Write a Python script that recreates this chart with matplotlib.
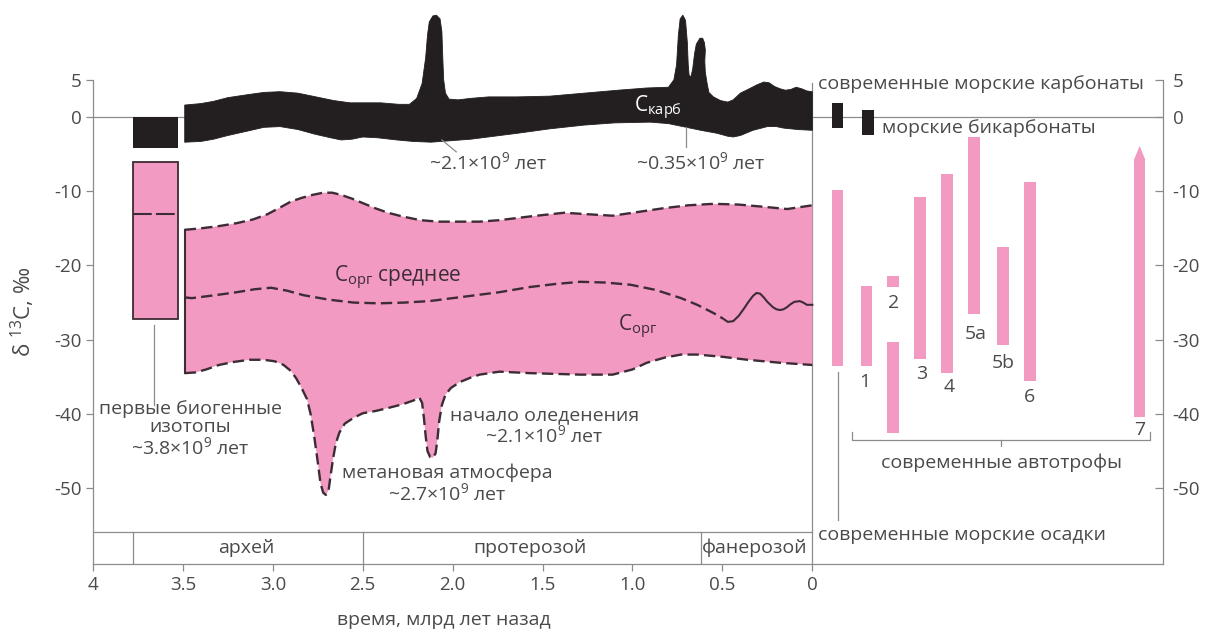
import numpy as np
import matplotlib.pyplot as plt

plt.rcParams['font.family'] = ['Open Sans', 'DejaVu Sans']
plt.rcParams['mathtext.fontset'] = 'custom'
plt.rcParams['mathtext.rm'] = 'Open Sans'
plt.rcParams['mathtext.it'] = 'Open Sans:italic'
plt.rcParams['mathtext.bf'] = 'Open Sans:bold'
plt.rcParams['axes.unicode_minus'] = False

PINK = '#f29ac2'
BLACK = '#231f20'
DASH = '#3d2c35'
GREY = '#8c8c8c'
TXT = '#4a4a4a'
FS = 14

# ---------------------------------------------------------------
# data (time in Ga before present; modern samples placed at x < 0)

# C_carb band, upper and lower edges
carb_up_x = [3.49, 3.40, 3.33, 3.25, 3.14, 3.05, 2.96, 2.86, 2.76, 2.66, 2.57, 2.48,
             2.40, 2.30, 2.24, 2.20, 2.17, 2.15, 2.14, 2.13, 2.11, 2.09, 2.07, 2.06,
             2.055, 2.05, 2.04, 2.02, 1.97, 1.90, 1.80, 1.64, 1.46, 1.27, 1.08, 0.92,
             0.80, 0.77, 0.755, 0.745, 0.735, 0.72, 0.705, 0.695, 0.69, 0.685, 0.675,
             0.665, 0.655, 0.645, 0.625, 0.61, 0.60, 0.595, 0.598, 0.595, 0.585, 0.575,
             0.55, 0.51, 0.47, 0.44, 0.40, 0.35, 0.31, 0.27, 0.24, 0.21, 0.18, 0.15,
             0.12, 0.09, 0.06, 0.03, 0.0]
carb_up_y = [1.6, 1.8, 2.1, 2.6, 3.0, 3.3, 3.4, 3.2, 2.7, 2.2, 1.9, 1.9,
             1.9, 1.7, 1.7, 2.5, 4.5, 8.0, 11.0, 12.8, 13.6, 13.7, 13.2, 11.5,
             8.0, 5.0, 3.2, 2.4, 2.3, 2.5, 2.7, 2.7, 2.8, 3.2, 3.6, 3.9,
             4.0, 5.0, 7.0, 11.0, 13.2, 13.7, 13.0, 10.0, 7.0, 5.6, 5.4,
             6.5, 8.5, 9.8, 10.6, 10.6, 10.0, 9.0, 7.5, 6.0, 4.5, 3.3,
             2.7, 2.2, 2.0, 2.3, 3.2, 3.8, 4.3, 4.7, 4.6, 4.1, 3.8, 3.6,
             3.7, 4.0, 3.8, 3.5, 3.4]
carb_lo_x = [3.49, 3.40, 3.33, 3.25, 3.14, 3.05, 2.96, 2.86, 2.77, 2.68, 2.62, 2.56,
             2.50, 2.42, 2.31, 2.22, 2.12, 2.01, 1.90, 1.77, 1.64, 1.46, 1.27, 1.10,
             0.90, 0.80, 0.72, 0.62, 0.53, 0.47, 0.44, 0.40, 0.33, 0.25, 0.20, 0.16,
             0.08, 0.0]
carb_lo_y = [-3.4, -3.3, -3.0, -2.5, -1.9, -1.4, -1.3, -1.7, -2.3, -2.8, -3.1, -3.0,
             -2.7, -2.8, -3.1, -3.3, -3.4, -3.2, -3.0, -2.6, -2.2, -1.6, -1.1, -0.8,
             -0.7, -0.9, -1.3, -1.8, -2.2, -2.6, -2.7, -2.5, -1.8, -1.3, -1.3, -1.5,
             -1.7, -1.8]

# C_org band, upper and lower edges
org_up_x = [3.49, 3.40, 3.30, 3.20, 3.11, 3.03, 2.96, 2.90, 2.84, 2.78, 2.72, 2.67,
            2.62, 2.56, 2.50, 2.43, 2.36, 2.28, 2.18, 2.08, 2.00, 1.85, 1.74, 1.57,
            1.38, 1.25, 1.11, 0.97, 0.83, 0.69, 0.55, 0.41, 0.27, 0.14, 0.0]
org_up_y = [-15.2, -15.0, -14.7, -14.3, -13.8, -13.1, -12.2, -11.4, -10.9, -10.5,
            -10.2, -10.2, -10.5, -11.0, -11.6, -12.3, -12.9, -13.4, -13.9, -14.1,
            -14.1, -14.1, -13.9, -13.4, -12.9, -13.1, -13.3, -12.8, -12.3, -11.9,
            -11.7, -11.8, -12.1, -12.4, -11.9]
org_lo_x = [3.49, 3.43, 3.37, 3.30, 3.22, 3.13, 3.05, 2.99, 2.94, 2.90, 2.87, 2.84,
            2.81, 2.79, 2.77, 2.75, 2.735, 2.72, 2.705, 2.69, 2.68, 2.665, 2.65, 2.63,
            2.60, 2.55, 2.50, 2.43, 2.36, 2.28, 2.22, 2.185, 2.17, 2.16, 2.15, 2.14,
            2.125, 2.11, 2.095, 2.085, 2.075, 2.06, 2.04, 2.01, 1.96, 1.90, 1.85,
            1.74, 1.57, 1.29, 1.11, 1.00, 0.92, 0.82, 0.73, 0.64, 0.50, 0.36, 0.18, 0.0]
org_lo_y = [-34.5, -34.4, -34.0, -33.4, -33.0, -32.7, -32.7, -32.9, -33.4, -34.2,
            -35.2, -36.5, -38.0, -40.0, -43.0, -46.5, -49.3, -50.6, -50.9, -50.3,
            -48.5, -46.0, -44.0, -42.5, -41.3, -40.5, -39.9, -39.6, -39.2, -38.7,
            -38.2, -37.8, -38.5, -40.5, -43.0, -45.0, -45.8, -45.9, -45.3, -43.5,
            -41.0, -38.8, -37.4, -36.5, -35.7, -35.1, -34.7, -34.3, -34.5, -34.7,
            -34.7, -34.0, -33.1, -32.4, -32.0, -32.0, -32.3, -32.7, -33.1, -33.4]
org_mean_x = [3.49, 3.45, 3.32, 3.20, 3.10, 3.01, 2.92, 2.83, 2.69, 2.55, 2.41, 2.27,
              2.13, 2.00, 1.87, 1.74, 1.57, 1.43, 1.29, 1.15, 1.01, 0.87, 0.73, 0.64,
              0.55, 0.50]
org_mean_y = [-24.3, -24.4, -24.0, -23.6, -23.2, -23.0, -23.4, -24.0, -24.6, -25.0,
              -25.1, -25.0, -24.8, -24.4, -24.0, -23.6, -22.9, -22.5, -22.2, -22.3,
              -22.6, -23.3, -24.4, -25.3, -26.4, -27.1]
org_wig_x = [0.50, 0.47, 0.44, 0.41, 0.38, 0.355, 0.33, 0.31, 0.29, 0.27, 0.25, 0.22,
             0.20, 0.18, 0.16, 0.14, 0.12, 0.10, 0.07, 0.05, 0.03, 0.0]
org_wig_y = [-27.1, -27.6, -27.5, -26.8, -25.8, -24.9, -24.1, -23.7, -23.8, -24.3,
             -24.9, -25.6, -25.9, -26.0, -25.9, -25.6, -25.2, -24.9, -24.8, -25.0,
             -25.3, -25.3]

# first biogenic isotopes (3.8 Ga box)
box_x = 3.655
box_w = 0.25
box_carb = (0.0, -4.2)
box_org = (-6.1, -27.2)
box_org_mean = -13.1

# eons
eon_edges = [3.78, 2.5, 0.62, 0.0]
eon_names = ['архей', 'протерозой', 'фанерозой']
eon_centers = [3.15, 1.57, 0.32]

# modern samples
sed_x, sed_top, sed_bot = -0.14, -9.8, -33.6
carb_mod_x = [-0.14, -0.31]
carb_mod_top = [1.9, 0.9]
carb_mod_bot = [-1.5, -2.4]
auto_x = [-0.30, -0.45, -0.45, -0.60, -0.75, -0.90, -1.06, -1.21, -1.82]
auto_top = [-22.8, -21.4, -30.3, -10.8, -7.7, -2.7, -17.5, -8.8, -5.8]
auto_bot = [-33.6, -22.9, -42.6, -32.6, -34.5, -26.6, -30.7, -35.6, -40.4]
auto_tip = -3.9
auto_labels = ['1', '2', '3', '4', '5a', '5b', '6', '7']
auto_label_x = [-0.29, -0.45, -0.61, -0.76, -0.91, -1.06, -1.21, -1.82]
auto_label_y = [-35.7, -25.0, -34.6, -36.4, -29.2, -33.1, -37.7, -42.1]

xticks = [4, 3.5, 3.0, 2.5, 2.0, 1.5, 1.0, 0.5, 0]
xticklabels = ['4', '3.5', '3.0', '2.5', '2.0', '1.5', '1.0', '0.5', '0']
yticks = [5, 0, -10, -20, -30, -40, -50]

# ---------------------------------------------------------------
fig = plt.figure(figsize=(12.09, 6.32), dpi=100)
ax = fig.add_axes([93 / 1209, 68 / 632, 1070 / 1209, 554 / 632])
ax.set_xlim(4, -1.95)
ax.set_ylim(-60.2, 14.4)

for s in ['top', 'right']:
    ax.spines[s].set_visible(False)
ax.spines['left'].set_bounds(-60.2, 5)
for s in ['left', 'bottom']:
    ax.spines[s].set_color(GREY)
    ax.spines[s].set_linewidth(0.9)

ax.set_xticks(xticks)
ax.set_xticklabels(xticklabels)
ax.set_yticks(yticks)
ax.tick_params(axis='both', direction='out', length=5, width=0.9, color=GREY,
               labelcolor=TXT, labelsize=13.5)
ax.tick_params(axis='y', pad=3)

ax2 = ax.twinx()
ax2.set_ylim(ax.get_ylim())
for s in ['top', 'left', 'bottom']:
    ax2.spines[s].set_visible(False)
ax2.spines['right'].set_bounds(-60.2, 5)
ax2.spines['right'].set_color(GREY)
ax2.spines['right'].set_linewidth(0.9)
ax2.set_yticks(yticks)
ax2.tick_params(axis='y', direction='in', length=6, width=0.9, color=GREY,
                labelcolor=TXT, labelsize=13.5, pad=7)

# reference lines
ax.plot([4, -1.95], [0, 0], color=GREY, lw=0.9, zorder=1)
ax.plot([0, 0], [4.6, -60.2], color=GREY, lw=0.9, zorder=1)
ax.plot([4, 0], [-55.9, -55.9], color=GREY, lw=0.9, zorder=1)
for e in eon_edges[:-1]:
    ax.plot([e, e], [-55.9, -60.2], color=GREY, lw=0.9)
for name, c in zip(eon_names, eon_centers):
    ax.text(c, -58.0, name, ha='center', va='center', fontsize=FS, color=TXT)

# C_org band
ax.fill(org_up_x + org_lo_x[::-1], org_up_y + org_lo_y[::-1], color=PINK, lw=0, zorder=2)
dash_kw = dict(color=DASH, lw=1.7, dashes=(4.8, 2.2), zorder=3)
ax.plot(org_up_x, org_up_y, **dash_kw)
ax.plot(org_lo_x, org_lo_y, **dash_kw)
ax.plot(org_mean_x, org_mean_y, **dash_kw)
ax.plot(org_wig_x, org_wig_y, color=DASH, lw=1.5, zorder=3)
ax.plot([org_up_x[0], org_lo_x[0]], [org_up_y[0], org_lo_y[0]], color=DASH, lw=1.5, zorder=3)

# C_carb band
ax.fill(carb_up_x + carb_lo_x[::-1], carb_up_y + carb_lo_y[::-1], color=BLACK, lw=0.6,
        ec=BLACK, joinstyle='round', zorder=2, clip_on=False)

# 3.8 Ga box
ax.bar(box_x, box_carb[1] - box_carb[0], bottom=box_carb[0], width=box_w, color=BLACK, zorder=2)
ax.bar(box_x, box_org[1] - box_org[0], bottom=box_org[0], width=box_w, color=PINK,
       edgecolor=DASH, linewidth=1.3, zorder=2)
ax.plot([box_x + box_w / 2, box_x - box_w / 2], [box_org_mean, box_org_mean],
        color=DASH, lw=1.5, dashes=(9, 2), zorder=3)

# modern samples
ax.bar(sed_x, sed_bot - sed_top, bottom=sed_top, width=0.064, color=PINK, zorder=2)
ax.bar(carb_mod_x, np.subtract(carb_mod_bot, carb_mod_top), bottom=carb_mod_top,
       width=0.064, color=BLACK, zorder=2)
ax.bar(auto_x, np.subtract(auto_bot, auto_top), bottom=auto_top, width=0.064,
       color=PINK, zorder=2)
ax.fill([auto_x[-1] + 0.032, auto_x[-1], auto_x[-1] - 0.032],
        [auto_top[-1], auto_tip, auto_top[-1]], color=PINK, lw=0, zorder=2)
for lab, lx, ly in zip(auto_labels, auto_label_x, auto_label_y):
    ax.text(lx, ly, lab, ha='center', va='center', fontsize=FS, color=TXT)

# bracket for autotrophs
ax.plot([-0.22, -0.22, -1.88, -1.88], [-42.4, -43.5, -43.5, -42.4], color=GREY, lw=0.9)
ax.plot([-1.05, -1.05], [-43.5, -44.3], color=GREY, lw=0.9)
ax.text(-1.05, -46.6, 'современные автотрофы', ha='center', va='center', fontsize=FS,
        color=TXT)

# leader lines
ax.plot([3.66, 3.66], [-28.0, -38.8], color=GREY, lw=0.9)
ax.plot([sed_x, sed_x], [-34.3, -54.3], color=GREY, lw=0.9)
ax.plot([2.06, 1.98], [-3.1, -4.7], color=GREY, lw=0.9)
ax.plot([0.70, 0.70], [-1.3, -4.0], color=GREY, lw=0.9, zorder=3)

# texts
ax.text(3.46, -42.0, 'первые биогенные\nизотопы\n~3.8×10$^9$ лет', ha='center',
        va='center', fontsize=FS, color=TXT, linespacing=1.0)
ax.text(2.03, -49.4, 'метановая атмосфера\n~2.7×10$^9$ лет', ha='center',
        va='center', fontsize=FS, color=TXT, linespacing=1.0)
ax.text(1.49, -41.6, 'начало оледенения\n~2.1×10$^9$ лет', ha='center',
        va='center', fontsize=FS, color=TXT, linespacing=1.0)
ax.text(1.80, -6.1, '~2.1×10$^9$ лет', ha='center', va='center', fontsize=FS, color=TXT)
ax.text(0.62, -6.1, '~0.35×10$^9$ лет', ha='center', va='center', fontsize=FS, color=TXT)
ax.text(0.99, 1.2, r'С$_\mathrm{карб}$', ha='left', va='center', fontsize=15,
        color='white', zorder=4)
ax.text(2.66, -21.7, r'С$_\mathrm{орг}$ среднее', ha='left', va='center', fontsize=15,
        color=DASH, zorder=4)
ax.text(1.08, -28.3, r'С$_\mathrm{орг}$', ha='left', va='center', fontsize=15,
        color=DASH, zorder=4)
ax.text(-0.03, 4.4, 'современные морские карбонаты', ha='left', va='center',
        fontsize=FS, color=TXT)
ax.text(-0.39, -1.5, 'морские бикарбонаты', ha='left', va='center', fontsize=FS, color=TXT)
ax.text(-0.03, -56.3, 'современные морские осадки', ha='left', va='center',
        fontsize=FS, color=TXT)

ax.text(2.05, -67.7, 'время, млрд лет назад', ha='center', va='center', fontsize=FS,
        color=TXT, clip_on=False)
ax.text(4.39, -26.3, 'δ $^{13}$C, ‰', ha='center', va='center', rotation=90,
        fontsize=16, color=TXT, clip_on=False)

fig.savefig('out.png', dpi=100)
